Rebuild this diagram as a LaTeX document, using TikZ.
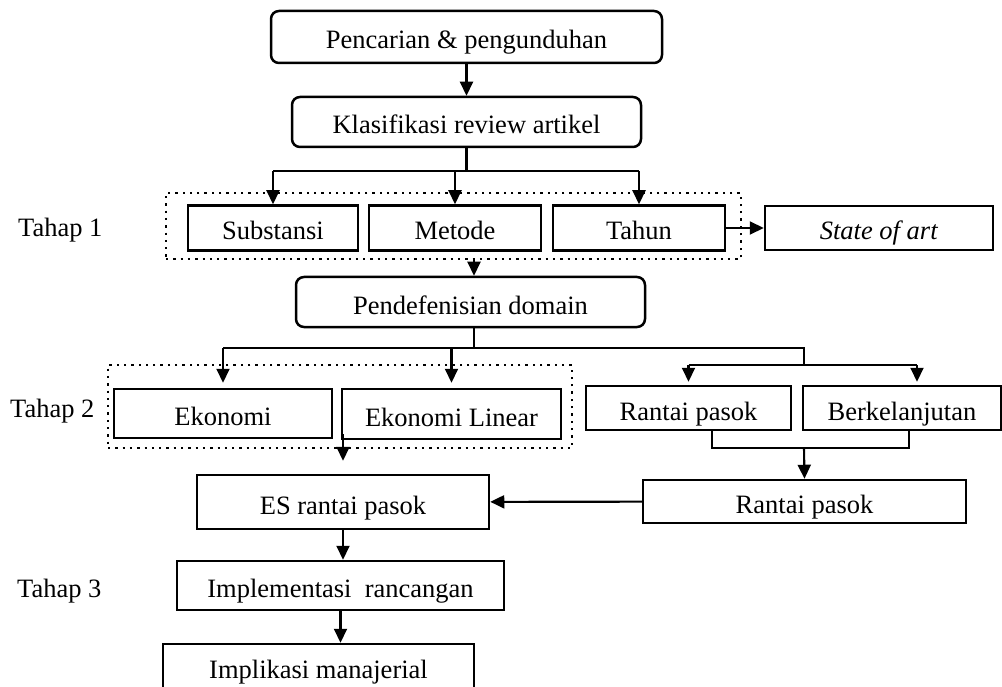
\documentclass[tikz,border=0pt]{standalone}
\usepackage{fontspec}
\setmainfont{Liberation Serif}
\usetikzlibrary{arrows.meta}

\tikzset{
  kotak/.style={draw, line width=2.5pt, inner sep=0pt, text height=24pt, text depth=0pt},
  bulat/.style={kotak, rounded corners=8pt},
  grup/.style={draw, line width=2.3pt, dash pattern=on 2.3pt off 5pt, inner sep=0pt},
  garis/.style={line width=2.1pt},
  panah/.style={garis, -{Triangle[length=14pt,width=13pt]}},
  tahap/.style={anchor=base west, inner sep=0pt}
}

\begin{document}
\begin{tikzpicture}[x=1pt,y=-1pt,font=\fontsize{26.5}{32}\selectfont]
\useasboundingbox (0,0) rectangle (1002,687);
\clip (0,0) rectangle (1002,687);

% atas
\node[bulat, minimum width=391pt, minimum height=52pt] (pencarian) at (466.5,37) {Pencarian \& pengunduhan};
\node[bulat, minimum width=349pt, minimum height=50pt] (klasifikasi) at (466.5,122) {Klasifikasi review artikel};
\draw[panah] (pencarian) -- (klasifikasi);

% tahap 1
\node[tahap] (tahap1) at (18,237) {Tahap 1};
\node[grup, minimum width=575pt, minimum height=66pt] (grup1) at (453.5,226) {};
\node[kotak, minimum width=170pt, minimum height=45pt] (substansi) at (273,228) {Substansi};
\node[kotak, minimum width=172pt, minimum height=45pt] (metode) at (455,228) {Metode};
\node[kotak, minimum width=172pt, minimum height=45pt] (tahun) at (639,228) {Tahun};
\node[kotak, minimum width=228pt, minimum height=44pt] (state) at (879,228) {\textit{State of art}};
\coordinate (k1) at (466.5,171);
\draw[garis] (klasifikasi) -- (k1);
\draw[garis] (substansi.north |- k1) -- (tahun.north |- k1);
\foreach \b in {substansi,metode,tahun}
  \draw[panah] (\b.north |- k1) -- (\b.north);
\draw[panah] (tahun) -- (state);

\node[bulat, minimum width=349pt, minimum height=50pt] (pendef) at (470.5,302) {Pendefenisian domain};
\draw[panah] ([xshift=3.5pt]pendef.north |- grup1.south) -- ([xshift=3.5pt]pendef.north);

% tahap 2
\node[tahap] (tahap2) at (10,417) {Tahap 2};
\node[grup, minimum width=464pt, minimum height=83pt] (grup2) at (340,406.5) {};
\node[kotak, minimum width=218pt, minimum height=49pt] (ekonomi) at (223,413.5) {Ekonomi};
\node[kotak, minimum width=219pt, minimum height=50pt] (ekolin) at (451.5,414) {Ekonomi Linear};
\node[kotak, minimum width=205pt, minimum height=44pt] (rantai) at (688.5,408) {Rantai pasok};
\node[kotak, minimum width=198pt, minimum height=44pt] (berkel) at (902,408) {Berkelanjutan};
\coordinate (d1) at (474,348);
\coordinate (d2) at (804,365);
\draw[garis] (d1 |- pendef.south) -- (d1);
\draw[garis] (ekonomi.north |- d1) -- (d1) -- (d1 -| d2) -- (d2);
\draw[garis] (rantai.north |- d2) -- ([xshift=15pt]berkel.north |- d2);
\draw[panah, shorten >=5pt] (ekonomi.north |- d1) -- (ekonomi.north);
\draw[panah, shorten >=5pt] (ekolin.north |- d1) -- (ekolin.north);
\draw[panah, shorten >=3pt] (rantai.north |- d2) -- (rantai.north);
\draw[panah, shorten >=3pt] ([xshift=15pt]berkel.north |- d2) -- ([xshift=15pt]berkel.north);

\node[kotak, minimum width=292pt, minimum height=54pt] (esrp) at (343,502) {ES rantai pasok};
\node[kotak, minimum width=323pt, minimum height=43pt] (rantaib) at (804.5,501.5) {Rantai pasok};
\coordinate (m1) at (804,448);
\draw[garis] ([xshift=23.5pt]rantai.south) -- ([xshift=23.5pt]rantai.south |- m1)
  -- ([xshift=7pt]berkel.south |- m1) -- ([xshift=7pt]berkel.south);
\draw[panah] (m1) -- (rantaib.north);
\draw[panah] (rantaib) -- (esrp);
\draw[panah, shorten >=13pt] ([yshift=6pt]esrp.north |- ekolin.south) -- (esrp.north);

% tahap 3
\node[tahap] (tahap3) at (17,597) {Tahap 3};
\node[kotak, minimum width=327pt, minimum height=49pt] (implementasi) at (340.5,585.5) {Implementasi~ rancangan};
\node[kotak, text depth=12pt, minimum width=311pt, minimum height=56pt] (implikasi) at (318.5,672) {Implikasi manajerial};
\draw[panah] (esrp.south) -- (esrp.south |- implementasi.north);
\draw[panah] (implementasi.south) -- (implementasi.south |- implikasi.north);
\end{tikzpicture}
\end{document}
